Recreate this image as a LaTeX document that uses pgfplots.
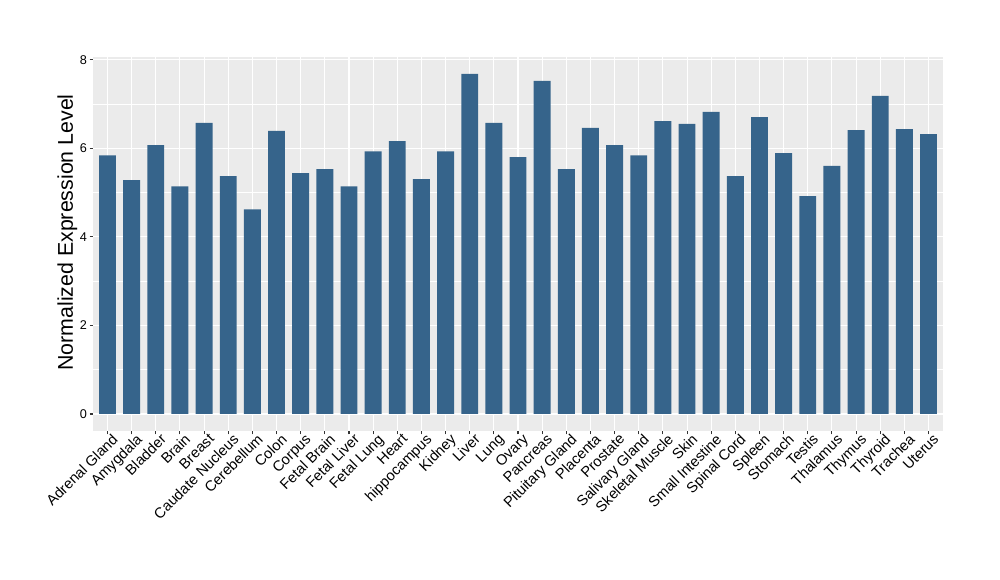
\documentclass[border=0pt]{standalone}
\usepackage{fontspec}
\setmainfont{Liberation Sans}
\usepackage{pgfplots}
\pgfplotsset{compat=1.18}
\definecolor{barcol}{RGB}{54,100,139}
\definecolor{panelbg}{RGB}{235,235,235}
\definecolor{tickcol}{RGB}{51,51,51}
\begin{document}
\begin{tikzpicture}
\path[use as bounding box] (0,0) rectangle (750pt,435pt);
\begin{axis}[
  at={(69.75pt,111.75pt)}, anchor=south west,
  scale only axis, width=637.5pt, height=280.5pt,
  xmin=-0.6, xmax=34.6, ymin=-0.384, ymax=8.06,
  axis background/.style={fill=panelbg},
  axis line style={draw=none},
  ybar, bar width=0.7,
  xtick={0,...,34},
  xticklabels={Adrenal Gland,Amygdala,Bladder,Brain,Breast,Caudate Nucleus,Cerebellum,Colon,Corpus,Fetal Brain,Fetal Liver,Fetal Lung,Heart,hippocampus,Kidney,Liver,Lung,Ovary,Pancreas,Pituitary Gland,Placenta,Prostate,Salivary Gland,Skeletal Muscle,Skin,Small Intestine,Spinal Cord,Spleen,Stomach,Testis,Thalamus,Thymus,Thyroid,Trachea,Uterus},
  xticklabel style={rotate=45, anchor=north east, font=\fontsize{11}{13}\selectfont, text=black, inner sep=1pt, xshift=4pt, yshift=0pt},
  ytick={0,2,4,6,8},
  minor ytick={1,3,5,7},
  yticklabel style={font=\fontsize{9.5}{11}\selectfont, text=black, xshift=1.5pt},
  /pgf/number format/assume math mode=true,
  xtick pos=left, ytick pos=left,
  tick align=outside,
  major tick length=2.6pt, minor tick length=0pt,
  tick style={tickcol, line width=0.8pt},
  grid=both,
  major grid style={white, line width=0.8pt},
  minor grid style={white, line width=0.4pt},
  ylabel={Normalized Expression Level},
  ylabel style={font=\fontsize{16}{19}\selectfont, at={(axis description cs:-0.013,0.531)}, anchor=south},
]
\addplot[fill=barcol, draw=none] coordinates {
(0,5.84) (1,5.28) (2,6.07) (3,5.14) (4,6.57) (5,5.37) (6,4.62) (7,6.39) (8,5.44) (9,5.53)
(10,5.14) (11,5.93) (12,6.16) (13,5.30) (14,5.93) (15,7.68) (16,6.57) (17,5.80) (18,7.52) (19,5.53)
(20,6.46) (21,6.07) (22,5.84) (23,6.61) (24,6.55) (25,6.82) (26,5.37) (27,6.70) (28,5.89) (29,4.92)
(30,5.60) (31,6.41) (32,7.18) (33,6.43) (34,6.32)
};
\end{axis}
\end{tikzpicture}
\end{document}
